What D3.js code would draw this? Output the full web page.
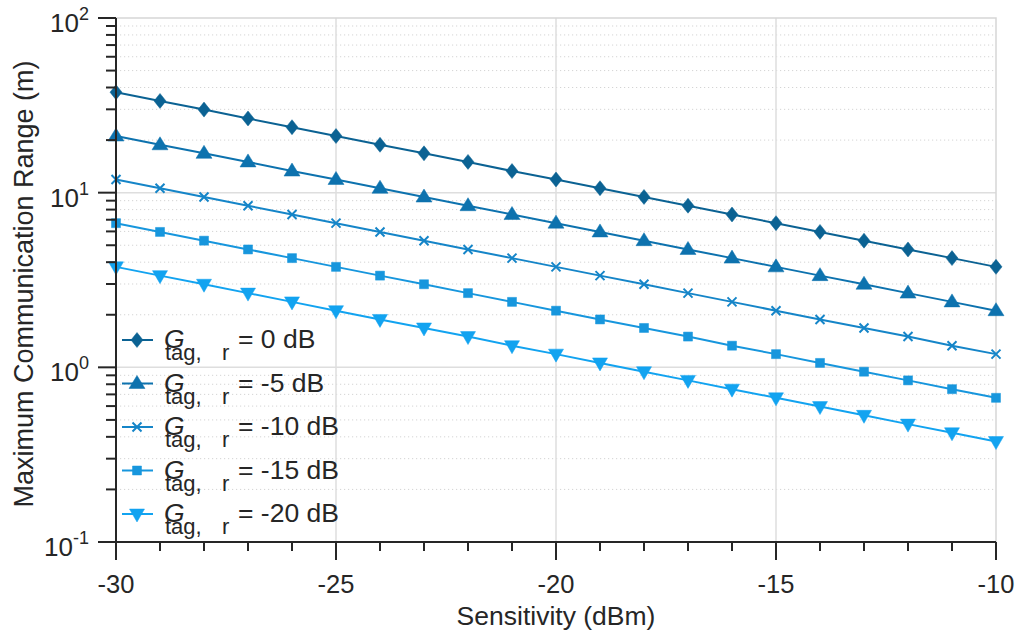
<!DOCTYPE html>
<html>
<head>
<meta charset="utf-8">
<script src="https://cdn.jsdelivr.net/npm/d3@7"></script>
<style>
  html, body { margin: 0; padding: 0; background: #fff; }
  svg { display: block; font-family: "Liberation Sans", Arial, Helvetica, sans-serif; }
</style>
</head>
<body>
<svg id="chart" width="1017" height="637"></svg>
<script>
// Sensitivity sweep (dBm)
const sensitivity = [-30, -29, -28, -27, -26, -25, -24, -23, -22, -21, -20,
                     -19, -18, -17, -16, -15, -14, -13, -12, -11, -10];

// Maximum communication range (m) for each tag gain
const range0dB   = [37.6, 33.5, 29.9, 26.6, 23.7, 21.1, 18.8, 16.8, 15.0, 13.3, 11.9,
                    10.6, 9.45, 8.42, 7.50, 6.69, 5.96, 5.31, 4.73, 4.22, 3.76];
const range5dB   = [21.1, 18.8, 16.8, 15.0, 13.3, 11.9, 10.6, 9.44, 8.42, 7.50, 6.69,
                    5.96, 5.31, 4.73, 4.22, 3.76, 3.35, 2.99, 2.66, 2.37, 2.11];
const range10dB  = [11.9, 10.6, 9.44, 8.42, 7.50, 6.69, 5.96, 5.31, 4.73, 4.22, 3.76,
                    3.35, 2.99, 2.66, 2.37, 2.11, 1.88, 1.68, 1.50, 1.33, 1.19];
const range15dB  = [6.69, 5.96, 5.31, 4.73, 4.22, 3.76, 3.35, 2.99, 2.66, 2.37, 2.11,
                    1.88, 1.68, 1.50, 1.33, 1.19, 1.06, 0.944, 0.842, 0.750, 0.669];
const range20dB  = [3.76, 3.35, 2.99, 2.66, 2.37, 2.11, 1.88, 1.68, 1.50, 1.33, 1.19,
                    1.06, 0.944, 0.842, 0.750, 0.669, 0.596, 0.531, 0.473, 0.422, 0.376];

const gainLabels = ["= 0 dB", "= -5 dB", "= -10 dB", "= -15 dB", "= -20 dB"];
const xTickValues = [-30, -25, -20, -15, -10];
const yDecadeExponents = [-1, 0, 1, 2];

const seriesColors  = ["#0b6293", "#0d72ae", "#1585c8", "#1796dd", "#12a3f0"];
const seriesMarkers = ["diamond", "triangleUp", "cross", "square", "triangleDown"];
const seriesValues  = [range0dB, range5dB, range10dB, range15dB, range20dB];

const series = seriesValues.map((vals, i) => ({
  label: gainLabels[i],
  color: seriesColors[i],
  marker: seriesMarkers[i],
  points: sensitivity.map((s, j) => ({ s, v: vals[j] }))
}));

const svg = d3.select("#chart");
const margin = { left: 116, right: 21, top: 18, bottom: 95 };
const W = 1017, H = 637;
const x = d3.scaleLinear().domain([-30, -10]).range([margin.left, W - margin.right]);
const y = d3.scaleLog().domain([0.1, 100]).range([H - margin.bottom, margin.top]);

const textColor = "#262626";
const x0 = x.range()[0], x1 = x.range()[1];
const y0 = y.range()[0], y1 = y.range()[1];

// minor log gridlines (dotted)
const minorY = [];
yDecadeExponents.slice(0, -1).forEach(e => {
  for (let m = 2; m <= 9; m++) minorY.push(m * Math.pow(10, e));
});
const grid = svg.append("g");
grid.selectAll("line.minor").data(minorY).enter().append("line")
  .attr("x1", x0).attr("x2", x1)
  .attr("y1", d => y(d)).attr("y2", d => y(d))
  .attr("stroke", "#d4d4d4").attr("stroke-width", 1)
  .attr("stroke-dasharray", "1.2,2.8");

// major gridlines
grid.selectAll("line.majY").data([1, 10]).enter().append("line")
  .attr("x1", x0).attr("x2", x1)
  .attr("y1", d => y(d)).attr("y2", d => y(d))
  .attr("stroke", "#dedede").attr("stroke-width", 1.5);
grid.selectAll("line.majX").data([-25, -20, -15]).enter().append("line")
  .attr("x1", d => x(d)).attr("x2", d => x(d))
  .attr("y1", y0).attr("y2", y1)
  .attr("stroke", "#dedede").attr("stroke-width", 1.5);

// top and right box edges
svg.append("path")
  .attr("d", `M${x0},${y1}H${x1}V${y0}`)
  .attr("fill", "none").attr("stroke", "#d6d6d6").attr("stroke-width", 1.5);

// marker shapes
function markerPath(kind) {
  switch (kind) {
    case "diamond": return "M0,-7.5L6,0L0,7.5L-6,0Z";
    case "triangleUp": return "M0,-8L8,5L-8,5Z";
    case "triangleDown": return "M0,8L7.5,-5L-7.5,-5Z";
    case "square": return "M-4.5,-4.5H4.5V4.5H-4.5Z";
    case "cross": return "M-4.5,-4.5L4.5,4.5M-4.5,4.5L4.5,-4.5";
  }
}
function drawMarker(g, kind, color) {
  const p = g.append("path").attr("d", markerPath(kind));
  if (kind === "cross") p.attr("fill", "none").attr("stroke", color).attr("stroke-width", 2);
  else p.attr("fill", color).attr("stroke", color).attr("stroke-width", 0.5);
}

// series lines and markers
const line = d3.line().x(d => x(d.s)).y(d => y(d.v));
const plot = svg.append("g");
series.forEach(sr => {
  plot.append("path").datum(sr.points)
    .attr("d", line).attr("fill", "none")
    .attr("stroke", sr.color).attr("stroke-width", 2);
  sr.points.forEach(p => {
    const g = plot.append("g").attr("transform", `translate(${x(p.s)},${y(p.v)})`);
    drawMarker(g, sr.marker, sr.color);
  });
});

// x axis
const xAxisG = svg.append("g");
xAxisG.append("line").attr("x1", x0).attr("x2", x1).attr("y1", y0).attr("y2", y0)
  .attr("stroke", textColor).attr("stroke-width", 2);
xAxisG.selectAll("line.minor").data(d3.range(-30, -9, 1)).enter().append("line")
  .attr("x1", d => x(d)).attr("x2", d => x(d))
  .attr("y1", y0).attr("y2", d => y0 + (xTickValues.includes(d) ? 18 : 9))
  .attr("stroke", textColor).attr("stroke-width", 2);
xAxisG.selectAll("text").data(xTickValues).enter().append("text")
  .attr("x", d => x(d)).attr("y", y0 + 51)
  .attr("text-anchor", "middle").attr("font-size", 25.5).attr("fill", textColor)
  .text(d => d);

// y axis
const yAxisG = svg.append("g");
yAxisG.append("line").attr("x1", x0).attr("x2", x0).attr("y1", y0).attr("y2", y1)
  .attr("stroke", textColor).attr("stroke-width", 2);
yAxisG.selectAll("line.minor").data(minorY).enter().append("line")
  .attr("x1", x0 - 10).attr("x2", x0)
  .attr("y1", d => y(d)).attr("y2", d => y(d))
  .attr("stroke", textColor).attr("stroke-width", 2);
yAxisG.selectAll("line.major").data(yDecadeExponents).enter().append("line")
  .attr("x1", x0 - 18).attr("x2", x0)
  .attr("y1", d => y(Math.pow(10, d))).attr("y2", d => y(Math.pow(10, d)))
  .attr("stroke", textColor).attr("stroke-width", 2);
const yLab = yAxisG.selectAll("text").data(yDecadeExponents).enter().append("text")
  .attr("y", d => y(Math.pow(10, d)) + 14)
  .attr("x", x0 - 27)
  .attr("text-anchor", "end").attr("fill", textColor);
yLab.append("tspan").attr("font-size", 26).text("10");
yLab.append("tspan").attr("font-size", 18).attr("dy", -12).text(d => d);

// axis titles
svg.append("text")
  .attr("x", (x0 + x1) / 2).attr("y", 625)
  .attr("text-anchor", "middle").attr("font-size", 26.5).attr("fill", textColor)
  .text("Sensitivity (dBm)");
svg.append("text")
  .attr("transform", `translate(33,${(y0 + y1) / 2 + 4}) rotate(-90)`)
  .attr("text-anchor", "middle").attr("font-size", 27).attr("fill", textColor)
  .text("Maximum Communication Range (m)");

// legend: sample line + marker, then G with "tag, r" subscript and gain value
const legend = svg.append("g");
series.forEach((sr, i) => {
  const ly = 340 + i * 43.5;
  const g = legend.append("g").attr("transform", `translate(0,${ly})`);
  g.append("line").attr("x1", 122).attr("x2", 153).attr("y1", 0).attr("y2", 0)
    .attr("stroke", sr.color).attr("stroke-width", 2);
  const m = g.append("g").attr("transform", "translate(137,0)");
  drawMarker(m, sr.marker, sr.color);
  const t = g.append("text").attr("y", 8).attr("fill", textColor);
  t.append("tspan").attr("x", 164).attr("font-size", 26.5)
    .attr("font-style", "italic").text("G");
  t.append("tspan").attr("x", 165).attr("dy", 12).attr("font-size", 22).text("tag,");
  t.append("tspan").attr("x", 222).attr("font-size", 22).text("r");
  t.append("tspan").attr("x", 238).attr("dy", -12).attr("font-size", 26.5).text(sr.label);
});
</script>
</body>
</html>
